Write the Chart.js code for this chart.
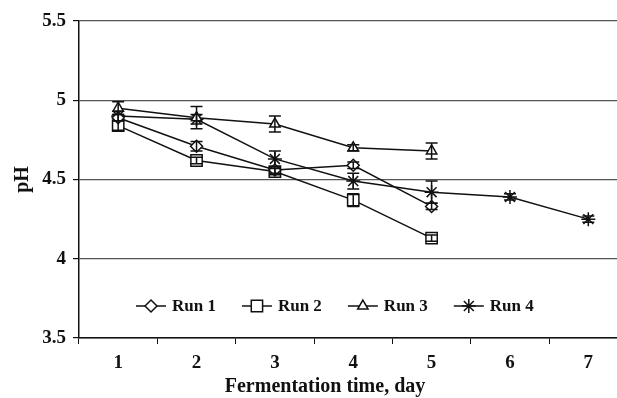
<!DOCTYPE html>
<html>
<head>
<meta charset="utf-8">
<script src="https://cdn.jsdelivr.net/npm/chart.js@4"></script>
<style>
  html, body { margin: 0; padding: 0; background: #fff; overflow: hidden; }
  #wrap { width: 617px; height: 398px; overflow: hidden; }
</style>
</head>
<body>
<div id="wrap"><canvas id="phChart" width="637" height="398"></canvas></div>
<script>
// fermentation days
const days = ['1', '2', '3', '4', '5', '6', '7'];

// pH readings per run
const run1 = [4.89, 4.71, 4.56, 4.59, 4.33];
const run2 = [4.84, 4.62, 4.55, 4.37, 4.13];
const run3 = [4.95, 4.89, 4.85, 4.70, 4.68];
const run4 = [4.90, 4.88, 4.63, 4.49, 4.42, 4.39, 4.25];

// error bar half-heights
const err1 = [0.02, 0.03, 0.02, 0.02, 0.02];
const err2 = [0.03, 0.02, 0.02, 0.04, 0.02];
const err3 = [0.04, 0.07, 0.05, 0.02, 0.05];
const err4 = [0.03, 0.03, 0.05, 0.05, 0.07, 0.02, 0.02];

const yTicks = [3.5, 4, 4.5, 5, 5.5];
const xTitle = 'Fermentation time, day';

const font = 'Liberation Serif';

function series(label, data, errors, style, radius) {
    return {
        label: label,
        data: data,
        errors: errors,
        borderColor: '#111',
        borderWidth: 1.5,
        pointStyle: style,
        pointRadius: radius,
        pointHoverRadius: radius,
        pointBackgroundColor: '#fff',
        pointBorderColor: '#111',
        pointBorderWidth: 1.5,
        tension: 0,
        fill: false
    };
}

const errorBars = {
    id: 'errorBars',
    afterDatasetsDraw(chart) {
        const ctx = chart.ctx;
        const y = chart.scales.y;
        ctx.save();
        ctx.strokeStyle = '#111';
        ctx.lineWidth = 1.5;
        chart.data.datasets.forEach((ds, i) => {
            const meta = chart.getDatasetMeta(i);
            (ds.errors || []).forEach((e, j) => {
                const pt = meta.data[j];
                if (!pt || !e) return;
                const top = y.getPixelForValue(ds.data[j] + e);
                const bot = y.getPixelForValue(ds.data[j] - e);
                ctx.beginPath();
                ctx.moveTo(pt.x, top); ctx.lineTo(pt.x, bot);
                ctx.moveTo(pt.x - 6, top); ctx.lineTo(pt.x + 6, top);
                ctx.moveTo(pt.x - 6, bot); ctx.lineTo(pt.x + 6, bot);
                ctx.stroke();
            });
        });
        ctx.restore();
    }
};

// legend inside the plot near the bottom, plus the x title
// (the original plot runs past the right edge, so its title sits left of the area centre)
const extras = {
    id: 'extras',
    afterDraw(chart) {
        const ctx = chart.ctx;
        const area = chart.chartArea;
        const cy = area.bottom - 32;
        let x = area.left + 57;
        ctx.save();
        ctx.font = 'bold 17px "' + font + '"';
        ctx.textBaseline = 'middle';
        chart.data.datasets.forEach(ds => {
            ctx.strokeStyle = '#111';
            ctx.lineWidth = 1.5;
            ctx.beginPath();
            ctx.moveTo(x, cy); ctx.lineTo(x + 30, cy);
            ctx.stroke();
            ctx.fillStyle = '#fff';
            Chart.helpers.drawPoint(ctx, {
                pointStyle: ds.pointStyle,
                radius: ds.pointRadius,
                borderWidth: 1.5
            }, x + 15, cy);
            ctx.fillStyle = '#111';
            ctx.fillText(ds.label, x + 36, cy + 1);
            x += 36 + ctx.measureText(ds.label).width + 26;
        });

        ctx.font = 'bold 20px "' + font + '"';
        ctx.textAlign = 'center';
        ctx.fillText(xTitle, area.left + 246, area.bottom + 49);
        ctx.restore();
    }
};

new Chart(document.getElementById('phChart'), {
    type: 'line',
    data: {
        labels: days,
        datasets: [
            series('Run 1', run1, err1, 'rectRot', 6),
            series('Run 2', run2, err2, 'rect', 8),
            series('Run 3', run3, err3, 'triangle', 6),
            series('Run 4', run4, err4, 'star', 7)
        ]
    },
    options: {
        responsive: false,
        animation: false,
        layout: { padding: { top: 21, left: 0, right: 2, bottom: 0 } },
        plugins: {
            legend: { display: false },
            tooltip: { enabled: false }
        },
        scales: {
            x: {
                offset: true,
                grid: {
                    offset: true,
                    drawOnChartArea: false,
                    drawTicks: true,
                    tickLength: 6,
                    color: '#111'
                },
                border: { color: '#111', width: 1.5 },
                ticks: {
                    color: '#111',
                    padding: 8,
                    font: { family: font, size: 19, weight: 'bold' }
                },
                afterFit(scale) { scale.height = 60; }
            },
            y: {
                min: 3.5,
                max: 5.5,
                afterBuildTicks(scale) { scale.ticks = yTicks.map(v => ({ value: v })); },
                grid: {
                    color: '#555',
                    lineWidth: 1.2,
                    tickLength: 6,
                    tickColor: '#111'
                },
                border: { color: '#111', width: 1.5 },
                ticks: {
                    color: '#111',
                    padding: 7,
                    font: { family: font, size: 19, weight: 'bold' },
                    callback: v => String(v)
                },
                title: {
                    display: true,
                    text: 'pH',
                    color: '#111',
                    padding: { top: 11, bottom: 0 },
                    font: { family: font, size: 20, weight: 'bold' }
                },
                afterFit(scale) { scale.width = 79; }
            }
        }
    },
    plugins: [errorBars, extras]
});
</script>
</body>
</html>
